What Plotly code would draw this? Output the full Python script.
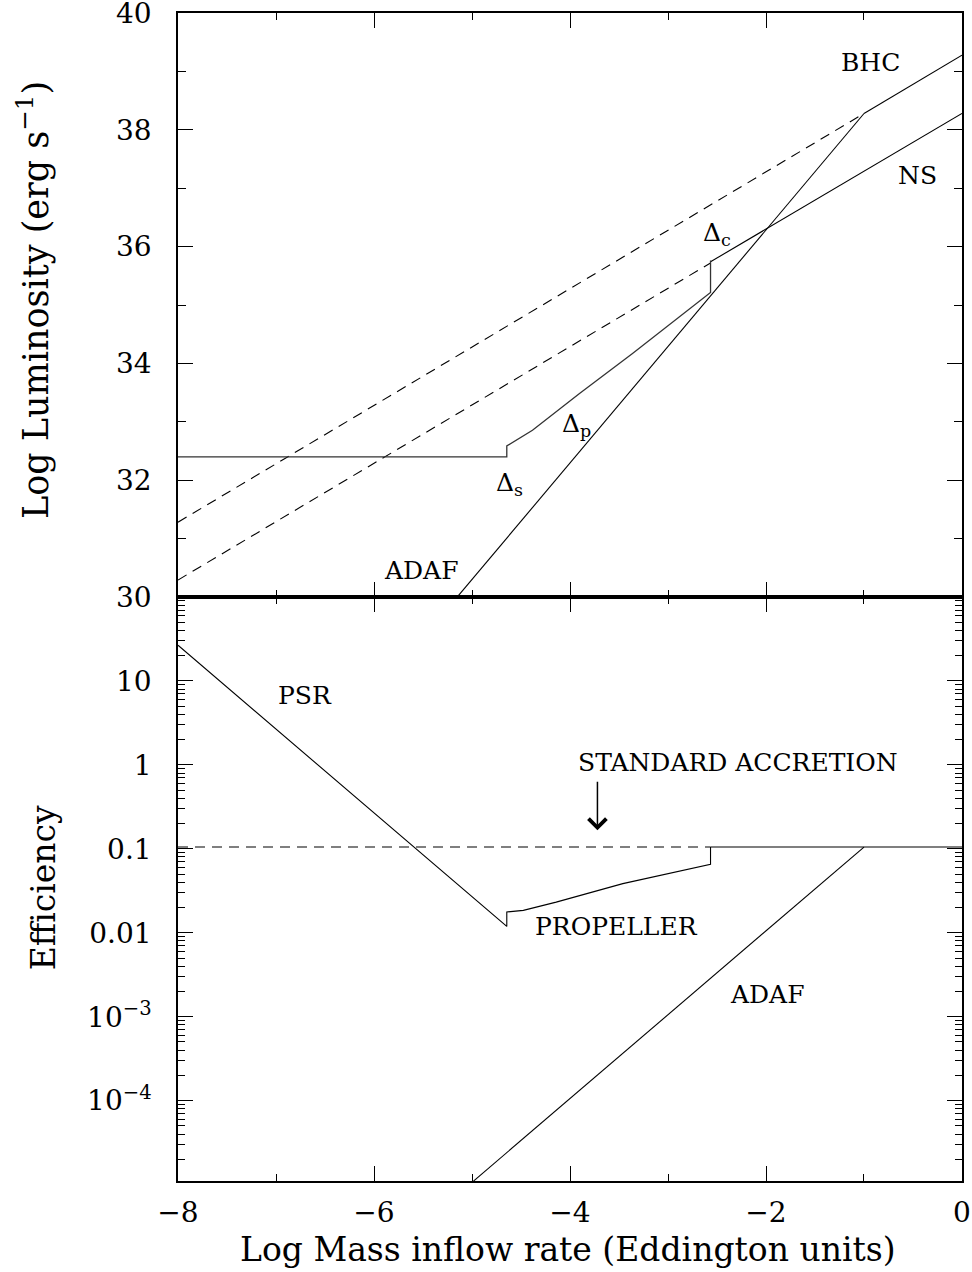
import math
import plotly.graph_objects as go
from plotly.subplots import make_subplots

# ---------------- data ----------------
# Top panel: Log luminosity vs Log mass inflow rate
bhc_dash_x = [-8.0, -1.0]
bhc_dash_L = [31.28, 38.28]
bhc_solid_x = [-1.0, 0.0]
bhc_solid_L = [38.28, 39.28]

ns_dash_x = [-8.0, -2.566]
ns_dash_L = [30.29, 35.72]
ns_solid_x = [-2.566, 0.0]
ns_solid_L = [35.74, 38.28]

ns_low_x = [-8.0, -4.645, -4.645, -4.383, -3.903, -3.362, -2.566, -2.566]
ns_low_L = [32.40, 32.40, 32.587, 32.856, 33.485, 34.17, 35.215, 35.76]

adaf_top_x = [-5.15, -1.0]
adaf_top_L = [30.0, 38.28]

# Bottom panel: efficiency vs Log mass inflow rate
std_dash_x = [-8.0, -2.566]
std_dash_eff = [0.105, 0.105]
std_solid_x = [-2.566, 0.0]
std_solid_eff = [0.105, 0.105]

psr_x = [-8.0, -4.645, -4.645, -4.476, -4.141, -3.461, -2.566, -2.566]
psr_eff = [26.6, 0.0119, 0.0177, 0.0185, 0.0232, 0.0385, 0.0655, 0.105]

adaf_bot_x = [-4.985, -1.0]
adaf_bot_eff = [1.1e-5, 0.105]

# tick labels
lum_tickvals = [30, 32, 34, 36, 38, 40]
lum_ticktext = ["30", "32", "34", "36", "38", "40"]
eff_tickvals = [1e-4, 1e-3, 0.01, 0.1, 1, 10]
eff_ticktext = ["10<sup>−4</sup>", "10<sup>−3</sup>", "0.01", "0.1", "1", "10"]
x_tickvals = [-8, -6, -4, -2, 0]
x_ticktext = ["−8", "−6", "−4", "−2", "0"]

# ---------------- figure ----------------
FONT = "DejaVu Serif"
fig = make_subplots(rows=2, cols=1, shared_xaxes=True, vertical_spacing=0)

solid = dict(color="black", width=1.1)
dashed = dict(color="black", width=1.1, dash="10px,7px")

fig.add_trace(go.Scatter(x=bhc_dash_x, y=bhc_dash_L, mode="lines", line=dashed), row=1, col=1)
fig.add_trace(go.Scatter(x=bhc_solid_x, y=bhc_solid_L, mode="lines", line=solid), row=1, col=1)
fig.add_trace(go.Scatter(x=ns_dash_x, y=ns_dash_L, mode="lines", line=dashed), row=1, col=1)
fig.add_trace(go.Scatter(x=ns_solid_x, y=ns_solid_L, mode="lines", line=solid), row=1, col=1)
fig.add_trace(go.Scatter(x=ns_low_x, y=ns_low_L, mode="lines", line=dict(color="#333", width=1.3)), row=1, col=1)
fig.add_trace(go.Scatter(x=adaf_top_x, y=adaf_top_L, mode="lines", line=solid), row=1, col=1)

fig.add_trace(go.Scatter(x=std_dash_x, y=std_dash_eff, mode="lines", line=dashed), row=2, col=1)
fig.add_trace(go.Scatter(x=std_solid_x, y=std_solid_eff, mode="lines", line=solid), row=2, col=1)
fig.add_trace(go.Scatter(x=psr_x, y=psr_eff, mode="lines", line=solid), row=2, col=1)
fig.add_trace(go.Scatter(x=adaf_bot_x, y=adaf_bot_eff, mode="lines", line=solid), row=2, col=1)

tickfont = dict(family=FONT, size=28, color="black")
axcommon = dict(showline=True, linecolor="black", linewidth=1.5, mirror="ticks",
                ticks="inside", tickcolor="black", tickwidth=1, showgrid=False,
                zeroline=False, tickfont=tickfont, automargin=False,
                ticklabeloverflow="allow")

fig.update_xaxes(range=[-8.0001, 0.0001], tickmode="array", tickvals=x_tickvals, ticktext=x_ticktext,
                 ticklen=15,
                 minor=dict(tickmode="linear", tick0=0, dtick=1, ticks="inside", ticklen=7, tickcolor="black"),
                 **axcommon)
fig.update_xaxes(showticklabels=False, row=1, col=1)
fig.update_xaxes(showticklabels=True, ticklabelstandoff=6, row=2, col=1)

fig.update_yaxes(range=[29.999, 40.001], tickmode="array", tickvals=lum_tickvals, ticktext=lum_ticktext,
                 ticklen=15, ticklabelstandoff=19,
                 minor=dict(tickmode="linear", tick0=30, dtick=1, ticks="inside", ticklen=8, tickcolor="black"),
                 row=1, col=1, **axcommon)

minor_vals = [k * 10.0 ** d for d in range(-5, 2) for k in range(2, 10)]
fig.update_yaxes(type="log", range=[-4.957, 2.0], tickmode="array", tickvals=eff_tickvals,
                 ticktext=eff_ticktext, ticklen=15, ticklabelstandoff=19,
                 minor=dict(tickmode="array", tickvals=minor_vals, ticks="inside", ticklen=7, tickcolor="black"),
                 row=2, col=1, **axcommon)

afont = dict(family=FONT, size=25, color="black")
ann = []
def txt(x, y, t, xref="x", yref="y", **kw):
    d = dict(x=x, y=y, text=t, xref=xref, yref=yref, showarrow=False, font=afont,
             xanchor="center", yanchor="middle")
    d.update(kw)
    ann.append(d)

# top panel labels
txt(-0.934, 39.16, "BHC")
txt(-0.455, 37.22, "NS")
txt(-2.50, 36.22, "Δ<sub>c</sub>")
txt(-3.93, 32.95, "Δ<sub>p</sub>")
txt(-4.62, 31.93, "Δ<sub>s</sub>")
txt(-5.515, 30.46, "ADAF")
# bottom panel labels (log axis -> log10 coordinates)
txt(-6.709, math.log10(6.75), "PSR", "x2", "y2")
txt(-2.29, math.log10(1.07), "STANDARD ACCRETION", "x2", "y2")
txt(-3.526, math.log10(0.0119), "PROPELLER", "x2", "y2")
txt(-1.98, math.log10(0.00185), "ADAF", "x2", "y2")

ann.append(dict(x=-3.72, y=math.log10(0.166), xref="x2", yref="y2", text="",
                showarrow=True, ax=0, ay=-50, arrowhead=4, arrowsize=2.3,
                arrowwidth=1.5, arrowcolor="black"))

tfont = dict(family=FONT, size=33, color="black")
ann.append(dict(x=-0.184, y=0.754, xref="paper", yref="paper", showarrow=False,
                text="Log Luminosity (erg s<sup>−1</sup>)", textangle=-90,
                font=dict(family=FONT, size=35, color="black"),
                xanchor="center", yanchor="middle"))
ann.append(dict(x=-0.1716, y=0.251, xref="paper", yref="paper", showarrow=False,
                text="Efficiency", textangle=-90, font=tfont,
                xanchor="center", yanchor="middle"))
ann.append(dict(x=0.498, y=-0.0585, xref="paper", yref="paper", showarrow=False,
                text="Log Mass inflow rate (Eddington units)", font=tfont,
                xanchor="center", yanchor="middle"))

fig.update_layout(width=972, height=1272, margin=dict(l=178, r=10, t=13, b=91, autoexpand=False),
                  plot_bgcolor="white", paper_bgcolor="white", showlegend=False,
                  font=dict(family=FONT, color="black"), annotations=ann)

# remove the default page margin so the figure sits at the window's top-left corner
fig.write_html("out.html", config={"displayModeBar": False},
               post_script="document.body.style.margin='0';")
